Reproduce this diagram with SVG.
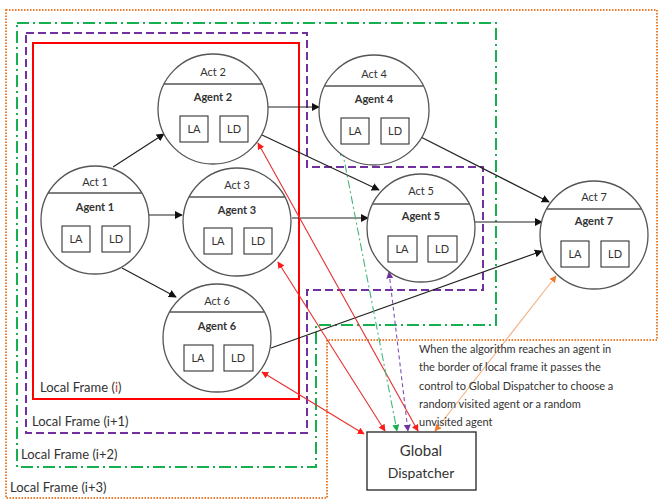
<svg xmlns="http://www.w3.org/2000/svg" width="658" height="503" viewBox="0 0 658 503">
<defs>
<marker id="ab" viewBox="0 0 10 10" refX="9" refY="5" markerWidth="8" markerHeight="8" markerUnits="userSpaceOnUse" orient="auto"><path d="M0,0 L10,5 L0,10 z" fill="#111"/></marker>
<marker id="ar" viewBox="0 0 10 10" refX="9" refY="5" markerWidth="7" markerHeight="7" markerUnits="userSpaceOnUse" orient="auto-start-reverse"><path d="M0,0 L10,5 L0,10 z" fill="#ff1a1a"/></marker>
<marker id="ag" viewBox="0 0 10 10" refX="9" refY="5" markerWidth="7" markerHeight="7" markerUnits="userSpaceOnUse" orient="auto-start-reverse"><path d="M0,0 L10,5 L0,10 z" fill="#16b050"/></marker>
<marker id="ap" viewBox="0 0 10 10" refX="9" refY="5" markerWidth="7" markerHeight="7" markerUnits="userSpaceOnUse" orient="auto-start-reverse"><path d="M0,0 L10,5 L0,10 z" fill="#7030a0"/></marker>
<marker id="ao" viewBox="0 0 10 10" refX="9" refY="5" markerWidth="7" markerHeight="7" markerUnits="userSpaceOnUse" orient="auto-start-reverse"><path d="M0,0 L10,5 L0,10 z" fill="#ed7d31"/></marker>
</defs>
<style>
text{font-family:Lato,"Liberation Sans",sans-serif;fill:#333}
.act{font-size:11px;text-anchor:middle}
.agt{font-size:11px;font-weight:bold;text-anchor:middle}
.bx{font-size:11px;text-anchor:middle}
.circ{fill:#fff;stroke:#555;stroke-width:1.3}
.div{stroke:#555;stroke-width:1.3}
.box{fill:#fff;stroke:#333;stroke-width:1.1}
.fl{font-size:13px}
.blk{stroke:#222;stroke-width:1.2;fill:none;marker-end:url(#ab)}
.red{stroke:#e83030;stroke-width:1.1;fill:none;marker-start:url(#ar);marker-end:url(#ar)}
.para{font-size:11px}
</style>
<rect width="658" height="503" fill="#fff"/>
<g id="frames" fill="none">
<path d="M6,10 H657 V340 H327 V498 H6 Z" stroke="#ed7d31" stroke-width="2" stroke-dasharray="1.5,1.5"/>
<path d="M17,23 H496 V325 H316 V467 H17 Z" stroke="#16b050" stroke-width="2" stroke-dasharray="12,4,2,4"/>
<path d="M26,33 H307 V167 H483 V290 H307 V433 H26 Z" stroke="#7030a0" stroke-width="2" stroke-dasharray="8,4"/>
<rect x="33" y="43" width="266" height="356" stroke="#ff0000" stroke-width="2"/>
<text class="fl" x="40" y="392">Local Frame (<tspan fill="#d04040">i</tspan>)</text>
<text class="fl" x="32" y="426">Local Frame (i+1)</text>
<text class="fl" x="21" y="459">Local Frame (i+2)</text>
<text class="fl" x="10" y="492">Local Frame (i+3)</text>
</g>
<g id="connectors">
<line class="blk" x1="113" y1="167" x2="164" y2="134"/>
<line class="blk" x1="149" y1="215" x2="182" y2="215"/>
<line class="blk" x1="122" y1="268" x2="176" y2="297"/>
<line class="blk" x1="268" y1="107" x2="319" y2="107"/>
<line class="blk" x1="262" y1="135" x2="379" y2="190"/>
<line class="blk" x1="292" y1="218" x2="368" y2="218"/>
<line class="blk" x1="409" y1="131" x2="549" y2="202"/>
<line class="blk" x1="475" y1="222" x2="542" y2="222"/>
<line class="blk" x1="271" y1="348" x2="542" y2="251"/>
<line class="red" x1="258" y1="143" x2="418" y2="431"/>
<line class="red" x1="278" y1="262" x2="385" y2="431"/>
<line class="red" x1="262" y1="372" x2="364" y2="434"/>
<line x1="342" y1="149" x2="397" y2="431" stroke="#40b878" stroke-width="1.1" stroke-dasharray="8,3,2,3" marker-start="url(#ag)" marker-end="url(#ag)"/>
<line x1="389" y1="272" x2="408" y2="431" stroke="#8050b8" stroke-width="1.1" stroke-dasharray="4,3" marker-start="url(#ap)" marker-end="url(#ap)"/>
<line x1="556" y1="276" x2="435" y2="431" stroke="#f4b183" stroke-width="1.1" marker-start="url(#ao)" marker-end="url(#ao)"/>
</g>
<g id="agent1">
<circle class="circ" cx="95" cy="220" r="54"/>
<line class="div" x1="48" y1="193" x2="142" y2="193"/>
<text class="act" x="95" y="186">Act 1</text>
<text class="agt" x="95" y="211">Agent 1</text>
<rect class="box" x="62" y="226" width="28" height="26"/><text class="bx" x="76" y="243">LA</text>
<rect class="box" x="102" y="226" width="28" height="26"/><text class="bx" x="116" y="243">LD</text>
</g>
<g id="agent2">
<circle class="circ" cx="213" cy="109" r="55"/>
<line class="div" x1="164" y1="84" x2="262" y2="84"/>
<text class="act" x="213" y="76">Act 2</text>
<text class="agt" x="213" y="101">Agent 2</text>
<rect class="box" x="180" y="116" width="28" height="26"/><text class="bx" x="194" y="133">LA</text>
<rect class="box" x="220" y="116" width="28" height="26"/><text class="bx" x="234" y="133">LD</text>
</g>
<g id="agent3">
<circle class="circ" cx="237" cy="222" r="54"/>
<line class="div" x1="189" y1="197" x2="285" y2="197"/>
<text class="act" x="237" y="189">Act 3</text>
<text class="agt" x="237" y="214">Agent 3</text>
<rect class="box" x="204" y="228" width="28" height="26"/><text class="bx" x="218" y="245">LA</text>
<rect class="box" x="244" y="228" width="28" height="26"/><text class="bx" x="258" y="245">LD</text>
</g>
<g id="agent4">
<circle class="circ" cx="374" cy="110" r="55"/>
<line class="div" x1="325" y1="86" x2="423" y2="86"/>
<text class="act" x="374" y="78">Act 4</text>
<text class="agt" x="374" y="103">Agent 4</text>
<rect class="box" x="341" y="118" width="28" height="26"/><text class="bx" x="355" y="135">LA</text>
<rect class="box" x="381" y="118" width="28" height="26"/><text class="bx" x="395" y="135">LD</text>
</g>
<g id="agent5">
<circle class="circ" cx="421" cy="228" r="54"/>
<line class="div" x1="373" y1="204" x2="469" y2="204"/>
<text class="act" x="421" y="195">Act 5</text>
<text class="agt" x="421" y="220">Agent 5</text>
<rect class="box" x="388" y="236" width="29" height="26"/><text class="bx" x="402" y="253">LA</text>
<rect class="box" x="428" y="236" width="29" height="26"/><text class="bx" x="442" y="253">LD</text>
</g>
<g id="agent6">
<circle class="circ" cx="217" cy="338" r="54"/>
<line class="div" x1="170" y1="312" x2="264" y2="312"/>
<text class="act" x="217" y="305">Act 6</text>
<text class="agt" x="217" y="330">Agent 6</text>
<rect class="box" x="184" y="345" width="29" height="26"/><text class="bx" x="198" y="362">LA</text>
<rect class="box" x="224" y="345" width="29" height="26"/><text class="bx" x="238" y="362">LD</text>
</g>
<g id="agent7">
<circle class="circ" cx="594" cy="235" r="54"/>
<line class="div" x1="547" y1="209" x2="641" y2="209"/>
<text class="act" x="594" y="201">Act 7</text>
<text class="agt" x="594" y="225">Agent 7</text>
<rect class="box" x="561" y="241" width="28" height="26"/><text class="bx" x="575" y="258">LA</text>
<rect class="box" x="601" y="241" width="28" height="26"/><text class="bx" x="615" y="258">LD</text>
</g>
<g id="dispatcher">
<rect x="367" y="432" width="109" height="58" fill="#fff" stroke="#222" stroke-width="1.3"/>
<text x="421" y="456" font-size="15" text-anchor="middle">Global</text>
<text x="421" y="478" font-size="14" text-anchor="middle">Dispatcher</text>
</g>
<g id="note">
<text class="para" x="419" y="353">When the algorithm reaches an agent in</text>
<text class="para" x="419" y="371">the border of local frame it passes the</text>
<text class="para" x="419" y="390">control to Global Dispatcher to choose a</text>
<text class="para" x="419" y="408">random visited agent or a random</text>
<text class="para" x="419" y="426">unvisited agent</text>
</g>
</svg>
